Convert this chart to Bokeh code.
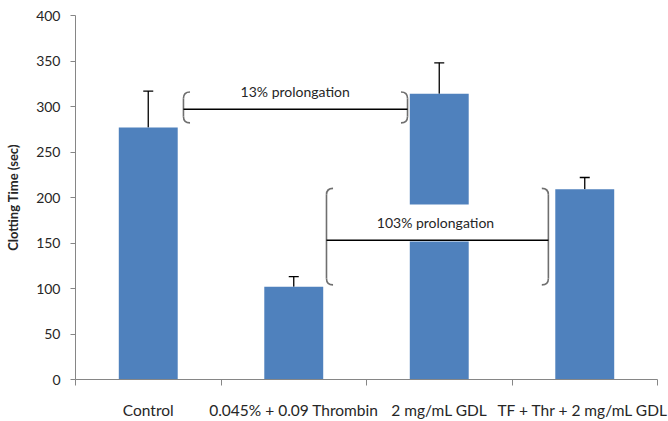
from bokeh.plotting import figure
from bokeh.models import FixedTicker, Whisker, ColumnDataSource, Label, TeeHead
from bokeh.embed import file_html
from bokeh.resources import INLINE

categories = ["Control", "0.045% + 0.09 Thrombin", "2 mg/mL GDL", "TF + Thr + 2 mg/mL GDL"]
means = [277, 102, 314, 209]
errors = [40, 11, 34, 13]
y_ticks = [0, 50, 100, 150, 200, 250, 300, 350, 400]

# annotation brackets: (left x, right x, bottom y, top y, line y, text, text x, text y)
ann_13 = dict(x0=0.742, x1=2.282, yb=282, yt=316, yl=297, text="13% prolongation", tx=1.51, ty=316)
ann_103 = dict(x0=1.725, x1=3.25, yb=104, yt=210, yl=153, text="103% prolongation", tx=2.474, ty=172)

FONT = "Lato"
BAR = "#4F81BD"
AXIS = "#868686"
TXT = "#262626"

xs = [i + 0.5 for i in range(len(categories))]
src = ColumnDataSource(dict(x=xs, top=means, upper=[m + e for m, e in zip(means, errors)]))

p = figure(width=668, height=421, x_range=(0, 4), y_range=(0, 400),
           output_backend="svg", toolbar_location=None,
           min_border_left=75, min_border_top=15, min_border_right=11, min_border_bottom=41)
p.outline_line_color = None
p.xgrid.visible = False
p.ygrid.visible = False
p.background_fill_color = "white"

p.vbar(x="x", top="top", width=0.405, bottom=0, source=src, color=BAR, line_color=None)

w = Whisker(base="x", lower="top", upper="upper", source=src, line_color="black", line_width=1.3,
            upper_head=TeeHead(size=10, line_color="black", line_width=1.3), lower_head=None)
p.add_layout(w)

# axes
p.yaxis.ticker = FixedTicker(ticks=y_ticks, minor_ticks=[])
p.yaxis.axis_line_color = AXIS
p.yaxis.major_tick_line_color = AXIS
p.yaxis.major_tick_out = 5
p.yaxis.major_tick_in = 0
p.yaxis.minor_tick_line_color = None
p.yaxis.major_label_text_font = FONT
p.yaxis.major_label_text_font_size = "14px"
p.yaxis.major_label_text_color = TXT
p.yaxis.major_label_standoff = 10
p.yaxis.axis_label = "Clotting Time (sec)"
p.yaxis.axis_label_text_font = FONT
p.yaxis.axis_label_text_font_style = "bold"
p.yaxis.axis_label_text_font_size = "13px"
p.yaxis.axis_label_text_color = TXT
p.yaxis.axis_label_standoff = 12

p.xaxis.ticker = FixedTicker(ticks=xs, minor_ticks=[0, 1, 2, 3, 4])
p.xaxis.major_label_overrides = {x: c for x, c in zip(xs, categories)}
p.xaxis.axis_line_color = AXIS
p.xaxis.major_tick_line_color = None
p.xaxis.minor_tick_line_color = AXIS
p.xaxis.minor_tick_out = 6
p.xaxis.minor_tick_in = 0
p.xaxis.major_label_text_font = FONT
p.xaxis.major_label_text_font_size = "15.5px"
p.xaxis.major_label_text_color = TXT
p.xaxis.major_label_standoff = 15

DX = 0.045
DY = 7.0
BR = "#6f6f6f"


def bracket(a):
    # left "(" and right ")" brackets
    for x, s in ((a["x0"], 1), (a["x1"], -1)):
        p.segment(x0=[x], y0=[a["yb"] + DY], x1=[x], y1=[a["yt"] - DY], line_color=BR, line_width=1.6, level="overlay")
        p.quadratic(x0=[x], y0=[a["yt"] - DY], x1=[x + s * DX], y1=[a["yt"]], cx=[x], cy=[a["yt"]],
                    line_color=BR, line_width=1.6, level="overlay")
        p.quadratic(x0=[x], y0=[a["yb"] + DY], x1=[x + s * DX], y1=[a["yb"]], cx=[x], cy=[a["yb"]],
                    line_color=BR, line_width=1.6, level="overlay")
    p.segment(x0=[a["x0"]], y0=[a["yl"]], x1=[a["x1"]], y1=[a["yl"]], line_color="black", line_width=1.5,
              level="overlay")


p.add_layout(Label(x=ann_13["tx"], y=ann_13["ty"], text=ann_13["text"], text_align="center",
                   text_baseline="middle", text_font=FONT, text_font_size="14px", text_color=TXT))
p.add_layout(Label(x=ann_103["tx"], y=ann_103["ty"], text=ann_103["text"], text_align="center",
                   text_baseline="middle", text_font=FONT, text_font_size="14px", text_color=TXT,
                   background_fill_color="white", padding=10))
bracket(ann_13)
bracket(ann_103)

open("out.html", "w").write(file_html(p, INLINE))
